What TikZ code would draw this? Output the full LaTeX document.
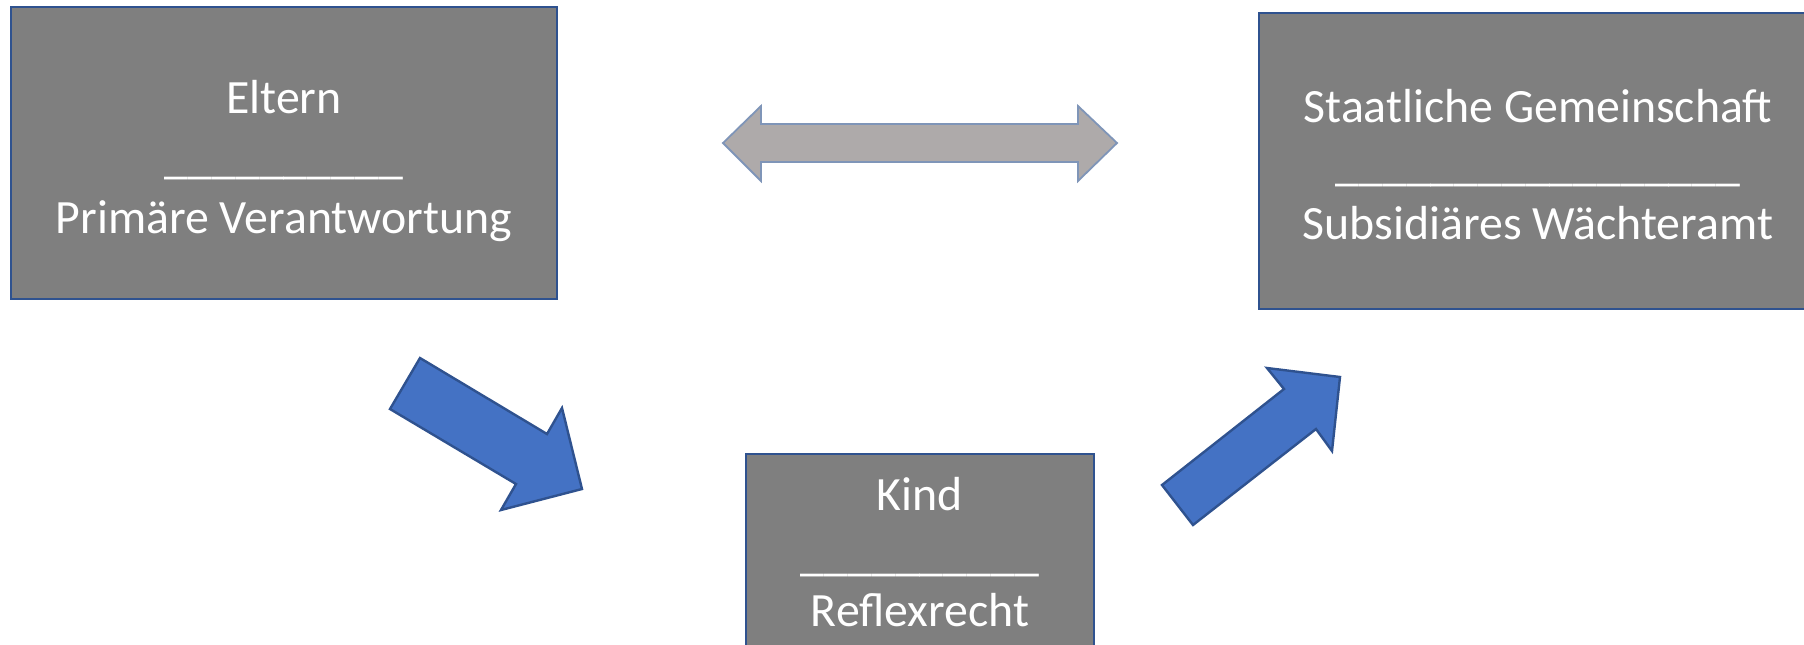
\documentclass[tikz,border=0pt]{standalone}
\usepackage{fontspec}
\setmainfont{Carlito}
\definecolor{boxfill}{HTML}{7F7F7F}
\definecolor{boxline}{HTML}{2F528F}
\definecolor{dblfill}{HTML}{AEAAAA}
\definecolor{dblline}{HTML}{7F95B8}
\definecolor{bluefill}{HTML}{4472C4}
\tikzset{
  box/.style={draw=boxline, fill=boxfill, line width=1.35pt},
  lbl/.style={anchor=base, text=white, inner sep=0pt, font=\fontsize{23.9}{28}\selectfont},
  dblarrow/.style={draw=dblline, fill=dblfill, line width=0.9pt, line join=miter},
  bluearrow/.style={draw=boxline, fill=bluefill, line width=1.2pt, line join=miter}
}
\begin{document}
\begin{tikzpicture}[x=0.5pt, y=-0.5pt]
\useasboundingbox (0,0) rectangle (1804,644);
% boxes
\path[box] (11,7) rectangle (557,299);
\node[inner sep=0pt] (eltern) at (284,153) {};
\path[box] (1259,13) rectangle (1817,309);
\node[inner sep=0pt] (staat) at (1538,161) {};
\path[box] (746,454) rectangle (1094,660);
\node[inner sep=0pt] (kind) at (920,550) {};
% texts
\node[lbl] (t1a) at (284,113) {Eltern};
\node[lbl] (t1b) at (284,173) {\_\_\_\_\_\_\_\_\_\_};
\node[lbl] (t1c) at (284,233) {Primäre Verantwortung};
\node[lbl] (t2a) at (1538,122) {Staatliche Gemeinschaft};
\node[lbl] (t2b) at (1538,180) {\_\_\_\_\_\_\_\_\_\_\_\_\_\_\_\_\_};
\node[lbl] (t2c) at (1538,239) {Subsidiäres Wächteramt};
\node[lbl] (t3a) at (920,510) {Kind};
\node[lbl] (t3b) at (920,570) {\_\_\_\_\_\_\_\_\_\_};
\node[lbl] (t3c) at (920,626) {Reflexrecht};
% double arrow
\path[dblarrow] (723,143) -- (761,106) -- (761,124) -- (1078,124) -- (1078,106)
  -- (1117,143) -- (1078,181) -- (1078,162) -- (761,162) -- (761,181) -- cycle;
% blue arrows
\path[bluearrow] (420,358) -- (547,434) -- (562,408) -- (582,489) -- (501,510)
  -- (516,484) -- (390,409) -- cycle;
\path[bluearrow] (1162,485) -- (1284,389) -- (1267,368) -- (1340,377) -- (1332,451)
  -- (1316,429) -- (1193,525) -- cycle;
\end{tikzpicture}
\end{document}
